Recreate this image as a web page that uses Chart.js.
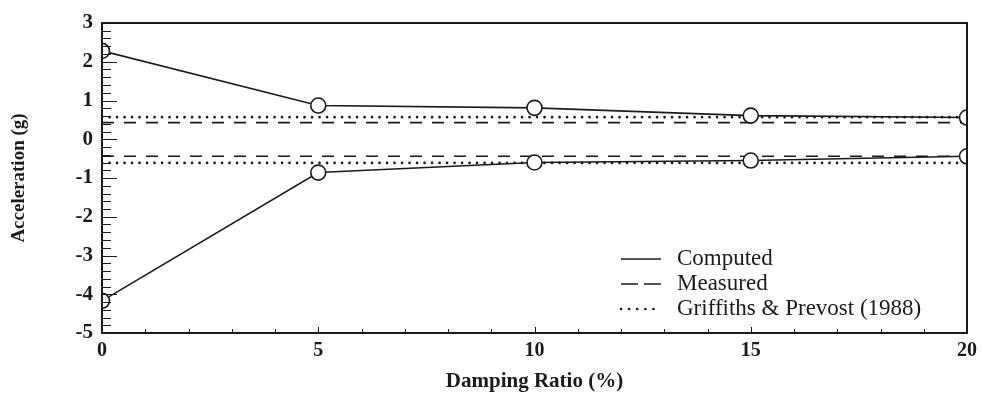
<!DOCTYPE html>
<html>
<head>
<meta charset="utf-8">
<script src="https://cdn.jsdelivr.net/npm/chart.js@4.4.1/dist/chart.umd.min.js"></script>
<style>
  html, body { margin: 0; padding: 0; background: #fff; }
  #wrap { width: 983px; height: 404px; }
</style>
</head>
<body>
<div id="wrap"><canvas id="c" width="983" height="404"></canvas></div>
<script>
// Damping ratio (%) at which the response was computed
const damping = [0, 5, 10, 15, 20];
// Computed peak accelerations (g): positive and negative peaks
const computedPos = [2.28, 0.87, 0.81, 0.61, 0.56];
const computedNeg = [-4.17, -0.86, -0.60, -0.55, -0.44];
// Measured and Griffiths & Prevost (1988) peaks, drawn across the damping range
const rangeX = [0, 20];
const measuredPos = [0.43, 0.43];
const measuredNeg = [-0.44, -0.44];
const griffithsPos = [0.57, 0.57];
const griffithsNeg = [-0.61, -0.61];
// Axis tick labels
const xTicks = [0, 5, 10, 15, 20];
const yTicks = [-5, -4, -3, -2, -1, 0, 1, 2, 3];

const INK = '#1a1a1a';
const pts = (xs, ys) => xs.map((x, i) => ({ x, y: ys[i] }));

const computedStyle = {
  borderColor: INK, borderWidth: 1.6,
  pointRadius: 7.5, pointBorderWidth: 1.6,
  pointBackgroundColor: '#fff', pointBorderColor: INK,
  order: 0
};
const measuredStyle = {
  borderColor: INK, borderWidth: 1.6, borderDash: [12, 10],
  pointRadius: 0, order: 1
};
const griffithsStyle = {
  borderColor: INK, borderWidth: 2.6, borderDash: [0.1, 7.4], borderCapStyle: 'round',
  pointRadius: 0, order: 2
};

const datasets = [
  { label: 'Computed', data: pts(damping, computedPos), ...computedStyle },
  { label: 'Computed', data: pts(damping, computedNeg), ...computedStyle },
  { label: 'Measured', data: pts(rangeX, measuredPos), ...measuredStyle },
  { label: 'Measured', data: pts(rangeX, measuredNeg), ...measuredStyle },
  { label: 'Griffiths & Prevost (1988)', data: pts(rangeX, griffithsPos), ...griffithsStyle },
  { label: 'Griffiths & Prevost (1988)', data: pts(rangeX, griffithsNeg), ...griffithsStyle }
];

// Frame around the plot area plus inward-pointing major/minor ticks
const framePlugin = {
  id: 'frame',
  afterDatasetsDraw(chart) {
    const { ctx, chartArea: a, scales: { x, y } } = chart;
    ctx.save();
    ctx.strokeStyle = INK;
    ctx.lineWidth = 1;
    // y ticks: minor every 0.2, major every 1
    for (let i = 0; i <= 40; i++) {
      const v = -5 + i * 0.2;
      const py = Math.round(y.getPixelForValue(v)) + 0.5;
      const major = i % 5 === 0;
      ctx.beginPath();
      ctx.moveTo(a.left, py);
      ctx.lineTo(a.left + (major ? 15 : 9), py);
      ctx.stroke();
    }
    // x ticks: minor every 1, major every 5
    for (let v = 0; v <= 20; v++) {
      const px = Math.round(x.getPixelForValue(v)) + 0.5;
      const major = v % 5 === 0;
      ctx.beginPath();
      ctx.moveTo(px, a.bottom);
      ctx.lineTo(px, a.bottom - (major ? 6 : 4));
      ctx.stroke();
    }
    ctx.lineWidth = 2;
    ctx.strokeRect(a.left, a.top, a.right - a.left, a.bottom - a.top);
    ctx.restore();
  }
};

// Legend inside the lower right of the plot area, built from the dataset styles
const legendPlugin = {
  id: 'innerLegend',
  afterDraw(chart) {
    const { ctx, chartArea: a } = chart;
    const entries = [chart.data.datasets[0], chart.data.datasets[2], chart.data.datasets[4]];
    const x0 = a.right - 346, x1 = a.right - 306, tx = a.right - 290;
    ctx.save();
    ctx.font = '23px "Liberation Serif", serif';
    ctx.textBaseline = 'middle';
    ctx.fillStyle = INK;
    entries.forEach((ds, i) => {
      const yy = a.bottom - 74 + i * 25;
      ctx.strokeStyle = ds.borderColor;
      ctx.lineWidth = ds.borderWidth;
      ctx.setLineDash(ds.borderDash ? (ds.label === 'Measured' ? [17, 6] : [0.1, 8]) : []);
      ctx.lineCap = ds.borderCapStyle || 'butt';
      ctx.beginPath();
      ctx.moveTo(x0, yy);
      ctx.lineTo(x1, yy);
      ctx.stroke();
      ctx.fillText(ds.label, tx, yy);
    });
    ctx.restore();
  }
};

new Chart(document.getElementById('c'), {
  type: 'line',
  data: { datasets },
  options: {
    responsive: false,
    animation: false,
    events: [],
    layout: { padding: { top: 23, right: 13, left: 0, bottom: 0 } },
    plugins: { legend: { display: false }, tooltip: { enabled: false } },
    scales: {
      x: {
        type: 'linear', min: 0, max: 20,
        afterBuildTicks: s => { s.ticks = xTicks.map(v => ({ value: v })); },
        afterFit: s => { s.height = 71; },
        grid: { display: false, drawTicks: false },
        border: { display: false },
        ticks: { padding: 6, color: INK, font: { family: '"Liberation Serif", serif', size: 20, weight: 'bold' } },
        title: {
          display: true, text: 'Damping Ratio (%)', color: INK,
          font: { family: '"Liberation Serif", serif', size: 21, weight: 'bold' },
          padding: { top: 0, bottom: 10 }
        }
      },
      y: {
        type: 'linear', min: -5, max: 3,
        afterBuildTicks: s => { s.ticks = yTicks.map(v => ({ value: v })); },
        afterFit: s => { s.width = 102; },
        grid: { display: false, drawTicks: false },
        border: { display: false },
        ticks: { padding: 9, color: INK, font: { family: '"Liberation Serif", serif', size: 21, weight: 'bold' } },
        title: {
          display: true, text: 'Acceleration (g)', color: INK,
          font: { family: '"Liberation Serif", serif', size: 19, weight: 'bold' },
          padding: { top: 8, bottom: 0 }
        }
      }
    }
  },
  plugins: [framePlugin, legendPlugin]
});
</script>
</body>
</html>
